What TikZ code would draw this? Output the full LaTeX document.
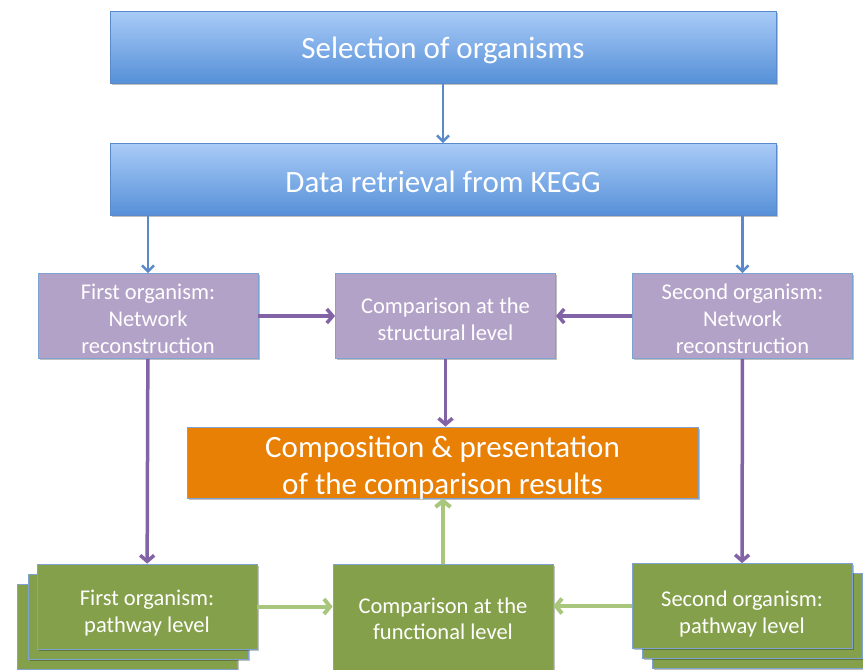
\documentclass[tikz,border=0pt]{standalone}
\usepackage{fontspec}
\setmainfont{Carlito}
\usetikzlibrary{arrows.meta}
\definecolor{bluetop}{HTML}{A9CBF7}
\definecolor{bluebot}{HTML}{5690D8}
\definecolor{blueedge}{HTML}{5B8ACB}
\definecolor{purplefill}{HTML}{B3A2C8}
\definecolor{purpleline}{HTML}{8264A6}
\definecolor{orangefill}{HTML}{E88006}
\definecolor{greenfill}{HTML}{85A04A}
\definecolor{greenline}{HTML}{A8C67C}
\definecolor{boxedge}{HTML}{7FA3D0}
\tikzset{
  x=1pt, y=-1pt,
  shadowed/.style={preaction={fill=black, opacity=0.25, transform canvas={shift={(1.5pt,-1.5pt)}}}},
  % box text, set as a centred label moved down by #1
  bigtext/.style={text=white, align=center, yshift=-#1, font=\fontsize{31}{36.5}\selectfont},
  smalltext/.style={text=white, align=center, yshift=-#1, font=\fontsize{22.5}{27}\selectfont},
  bluebox/.style={shadowed, draw=blueedge, line width=0.8pt, top color=bluetop, bottom color=bluebot,
    minimum width=666pt, minimum height=72pt},
  purplebox/.style={shadowed, draw=boxedge, line width=0.8pt, fill=purplefill,
    minimum width=220pt, minimum height=85pt},
  greenbox/.style={shadowed, draw=boxedge, line width=0.8pt, fill=greenfill,
    minimum width=220pt, minimum height=85pt},
  orangebox/.style={shadowed, draw=boxedge, line width=0.8pt, fill=orangefill,
    minimum width=511pt, minimum height=71pt},
  bluearrow/.style={draw=blueedge, line width=2.5pt, -{Straight Barb[length=6pt,width=12pt,line width=2.5pt]}},
  purplearrow/.style={draw=purpleline, line width=3.5pt, -{Straight Barb[length=6pt,width=14pt,line width=3.5pt]}},
  greenarrow/.style={draw=greenline, line width=4pt, -{Straight Barb[length=6pt,width=15pt,line width=4pt]}},
}
\begin{document}
\begin{tikzpicture}
\useasboundingbox (0,0) rectangle (863,670);

% top rows
\node[bluebox, label={[bigtext=3pt]center:Selection of organisms}] (sel) at (443,47) {};
\node[bluebox, label={[bigtext=2pt]center:Data retrieval from KEGG}] (kegg) at (443,179.5) {};

% network reconstruction row
\node[purplebox, label={[smalltext=2.5pt]center:First organism:\\Network\\reconstruction}] (net1) at (148,316) {};
\node[purplebox, label={[smalltext=3pt]center:Comparison at the\\structural level}] (struct) at (445.5,316) {};
\node[purplebox, label={[smalltext=2.5pt]center:Second organism:\\Network\\reconstruction}] (net2) at (742.5,316) {};

% results
\node[orangebox, label={[bigtext=5.5pt]center:Composition \& presentation\\of the comparison results}] (res) at (442.5,462.5) {};

% stacked pathway boxes, back layers first
\node[greenbox] (p1c) at (127,627) {};
\node[greenbox] (p1b) at (138,617) {};
\node[greenbox, label={[smalltext=7pt]center:First organism:\\pathway level}] (path1) at (147,606.5) {};
\node[greenbox] (p2c) at (762,626) {};
\node[greenbox] (p2b) at (752,616) {};
\node[greenbox, label={[smalltext=8pt]center:Second organism:\\pathway level}] (path2) at (742,606) {};
\node[greenbox, minimum height=120pt, label={[smalltext=-5pt, font=\fontsize{22.5}{25.5}\selectfont]center:Comparison at the\\functional level}] (func) at (443,624) {};

% connectors
\draw[bluearrow] (sel) -- (kegg);
\draw[bluearrow] (kegg.south -| net1) -- (net1);
\draw[bluearrow] (kegg.south -| net2) -- (net2);
\draw[purplearrow] (net1) -- (struct);
\draw[purplearrow] (net2) -- (struct);
\draw[purplearrow] (struct) -- (struct |- res.north);
\draw[purplearrow] (net1) -- (path1);
\draw[purplearrow] (net2) -- (path2);
\draw[greenarrow] (path1.east) -- (path1.east -| func.west);
\draw[greenarrow] (path2.west) -- (path2.west -| func.east);
\draw[greenarrow] (func.north) -- (func.north |- res.south);
\end{tikzpicture}
\end{document}
